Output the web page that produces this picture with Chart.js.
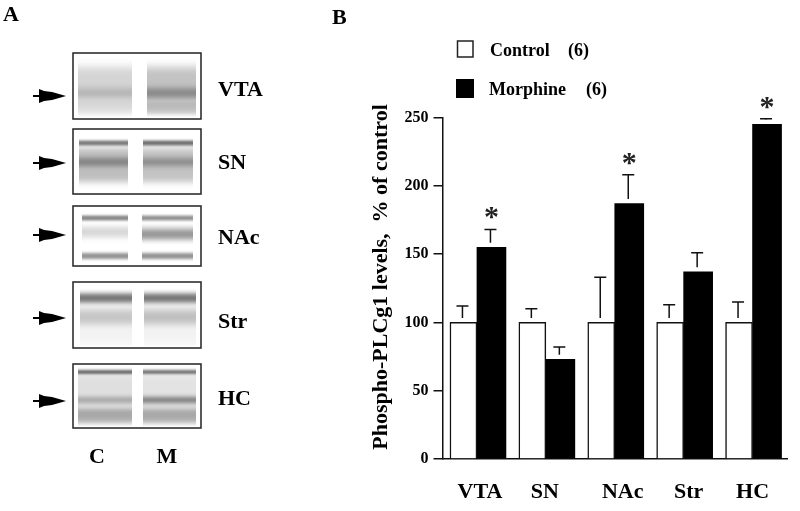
<!DOCTYPE html>
<html>
<head>
<meta charset="utf-8">
<title>Phospho-PLCg1</title>
<script src="https://cdn.jsdelivr.net/npm/chart.js@4"></script>
<style>
  html, body { margin: 0; padding: 0; background: #fff; }
  #wrap { position: relative; width: 800px; height: 511px; }
  #chart { filter: blur(0.4px); }
</style>
</head>
<body>
<div id="wrap"><canvas id="chart" width="800" height="511"></canvas></div>
<script>
// 図Bのデータ
const regions = ['VTA', 'SN', 'NAc', 'Str', 'HC'];
const controlValues = [100, 100, 100, 100, 100];
const morphineValues = [155, 73, 187, 137, 245];
const controlErrors = [12, 10, 33, 13, 15];
const morphineErrors = [13, 9, 21, 14, 4];
const significant = [true, false, true, false, true];
const yTicks = [0, 50, 100, 150, 200, 250];
const controlName = 'Control';
const morphineName = 'Morphine';
const groupSize = '(6)';
const yTitle = 'Phospho-PLCg1 levels,  % of control';

// 図Aのブロット
const blotBoxes = [[53, 119], [129, 194], [206, 266], [282, 348], [364, 428]];
const blotNames = [['VTA', 90], ['SN', 163], ['NAc', 238], ['Str', 322], ['HC', 399]];
const arrowRows = [96, 163, 235, 318, 401];
// レーンの左右 [C左, C右, M左, M右]
const blotLanes = [
  [78, 132, 147, 196],
  [79, 128, 143, 193],
  [82, 128, 142, 193],
  [80, 132, 144, 196],
  [78, 132, 143, 196],
];
// バンド [y, 高さ, C濃度, M濃度, ぼかし]
const blotBands = [
  [[85, 36, 0.2, 0.28, 4], [93, 9, 0.2, 0.42, 3], [108, 12, 0.14, 0.28, 2]],
  [[143, 5, 0.6, 0.65, 1], [165, 34, 0.3, 0.28, 3], [162, 8, 0.4, 0.35, 2.5]],
  [[218, 5, 0.55, 0.5, 1], [231, 10, 0.14, 0.15, 2], [235, 10, 0.06, 0.42, 2.5], [256, 6, 0.5, 0.5, 1.5]],
  [[298, 9, 0.62, 0.62, 2], [317, 14, 0.22, 0.25, 3], [320, 50, 0.06, 0.06, 6]],
  [[372, 4, 0.65, 0.6, 1], [392, 40, 0.15, 0.13, 5], [400, 6, 0.32, 0.55, 2], [416, 14, 0.38, 0.38, 2.5]],
];

const serif = '"Liberation Serif", "Times New Roman", serif';

function drawLane(ctx, left, right, top, bottom, bands, shade) {
  ctx.save();
  ctx.beginPath();
  ctx.rect(left, top, right - left, bottom - top);
  ctx.clip();
  bands.forEach((band) => {
    ctx.filter = `blur(${band[4]}px)`;
    ctx.fillStyle = `rgba(40,40,40,${band[shade]})`;
    ctx.fillRect(left - 15, band[0] - band[1] / 2, right - left + 30, band[1]);
  });
  ctx.restore();
}

// ブロットと矢印、パネルAの文字
const panelA = {
  id: 'panelA',
  beforeDraw(chart) {
    const ctx = chart.ctx;
    ctx.save();
    blotBoxes.forEach(([top, bottom], i) => {
      const lanes = blotLanes[i];
      drawLane(ctx, lanes[0], lanes[1], top + 2, bottom - 2, blotBands[i], 2);
      drawLane(ctx, lanes[2], lanes[3], top + 2, bottom - 2, blotBands[i], 3);
      ctx.strokeStyle = '#222';
      ctx.lineWidth = 1.5;
      ctx.strokeRect(73, top, 128, bottom - top);
    });
    ctx.fillStyle = '#000';
    arrowRows.forEach((y) => {
      ctx.fillRect(33, y - 1, 8, 2);
      ctx.beginPath();
      ctx.moveTo(39, y - 7);
      ctx.lineTo(44, y - 5);
      ctx.lineTo(52, y - 4);
      ctx.lineTo(66, y);
      ctx.lineTo(52, y + 4);
      ctx.lineTo(44, y + 5);
      ctx.lineTo(39, y + 7);
      ctx.fill();
    });
    ctx.textBaseline = 'middle';
    ctx.font = `bold 22px ${serif}`;
    blotNames.forEach(([name, y]) => ctx.fillText(name, 218, y));
    ctx.textAlign = 'center';
    ctx.fillText('C', 97, 457);
    ctx.fillText('M', 167, 457);
    ctx.textAlign = 'left';
    ctx.fillText('A', 3, 15);
    ctx.fillText('B', 332, 18);
    ctx.restore();
  },
};

// エラーバー、星印、凡例、軸ラベル
const panelB = {
  id: 'panelB',
  afterDatasetsDraw(chart) {
    const ctx = chart.ctx;
    const y = chart.scales.y;
    ctx.save();
    ctx.strokeStyle = '#111';
    ctx.lineWidth = 1.5;
    [[0, controlValues, controlErrors], [1, morphineValues, morphineErrors]].forEach(([ds, vals, errs]) => {
      chart.getDatasetMeta(ds).data.forEach((bar, i) => {
        const top = y.getPixelForValue(vals[i] + errs[i]);
        const stemEnd = Math.max(y.getPixelForValue(vals[i]) - 4.5, top);
        const x = bar.x - 1;
        ctx.beginPath();
        ctx.moveTo(x - 6, top);
        ctx.lineTo(x + 6, top);
        ctx.moveTo(x, top);
        ctx.lineTo(x, stemEnd);
        ctx.stroke();
        if (ds === 1 && significant[i]) {
          ctx.fillStyle = '#222';
          ctx.font = `bold 30px ${serif}`;
          ctx.textAlign = 'center';
          ctx.textBaseline = 'middle';
          ctx.fillText('*', bar.x, top - 11);
        }
      });
    });
    ctx.restore();
  },
  afterDraw(chart) {
    const ctx = chart.ctx;
    const x = chart.scales.x;
    ctx.save();
    ctx.fillStyle = '#000';
    // x軸ラベル(元図は少しずれている)
    const labelShift = [3, -1, 8, 5, 0];
    ctx.font = `bold 22px ${serif}`;
    ctx.textAlign = 'center';
    ctx.textBaseline = 'middle';
    regions.forEach((name, i) => ctx.fillText(name, x.getPixelForTick(i) + labelShift[i], 492));
    // y軸タイトル
    ctx.save();
    ctx.translate(381, 277);
    ctx.rotate(-Math.PI / 2);
    ctx.font = `bold 22px ${serif}`;
    ctx.fillText(yTitle, 0, 0);
    ctx.restore();
    // 凡例
    ctx.textAlign = 'left';
    ctx.font = `bold 18px ${serif}`;
    ctx.strokeStyle = '#222';
    ctx.lineWidth = 1.5;
    ctx.strokeRect(457.5, 41, 15.5, 16);
    ctx.fillRect(456, 79, 18, 19);
    ctx.fillText(controlName, 490, 51);
    ctx.fillText(groupSize, 568, 51);
    ctx.fillText(morphineName, 489, 90);
    ctx.fillText(groupSize, 586, 90);
    ctx.restore();
  },
};

const chartContext = document.getElementById('chart').getContext('2d');
new Chart(chartContext, {
  type: 'bar',
  data: {
    labels: regions,
    datasets: [
      {
        label: controlName,
        data: controlValues,
        backgroundColor: '#fff',
        borderColor: '#111',
        borderWidth: 1.5,
        barThickness: 27,
      },
      {
        label: morphineName,
        data: morphineValues,
        backgroundColor: '#000',
        borderColor: '#000',
        borderWidth: 0,
        barThickness: 29,
      },
    ],
  },
  plugins: [panelA, panelB],
  options: {
    responsive: false,
    animation: false,
    layout: { padding: { top: 117.5, right: 13, bottom: 52, left: 0 } },
    plugins: { legend: { display: false }, tooltip: { enabled: false } },
    scales: {
      x: {
        grid: { display: false },
        border: { color: '#111', width: 1.5 },
        ticks: { display: false },
        afterFit: (scale) => { scale.height = 0; },
      },
      y: {
        min: 0,
        max: 250,
        afterBuildTicks: (scale) => { scale.ticks = yTicks.map((value) => ({ value })); },
        grid: { drawOnChartArea: false, color: '#111', lineWidth: 1.5, tickLength: 9 },
        border: { color: '#111', width: 1.5 },
        ticks: {
          color: '#000',
          padding: 5,
          font: { family: serif, size: 16, weight: 'bold' },
        },
        afterFit: (scale) => { scale.width = 442.5; },
      },
    },
  },
});
</script>
</body>
</html>
